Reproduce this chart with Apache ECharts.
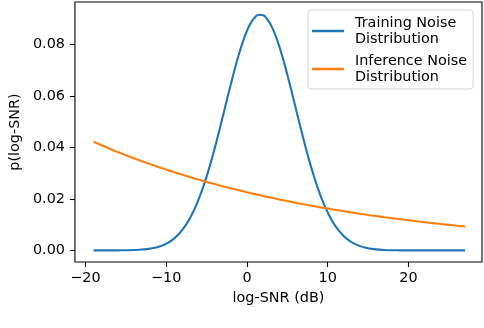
<!DOCTYPE html>
<html>
<head>
<meta charset="utf-8">
<script src="https://cdn.jsdelivr.net/npm/echarts@6/dist/echarts.min.js"></script>
<style>
  html, body { margin: 0; padding: 0; background: #fff; }
  #chart { width: 484px; height: 328px; }
</style>
</head>
<body>
<div id="chart"></div>
<script>
// log-SNR sample points (dB), finer around the training peak
const trainSnr = [-19, -18, -17, -16, -15, -14, -13, -12, -11, -10, -9, -8, -7, -6, -5, -4, -3,
  -2.5, -2, -1.5, -1, -0.5, 0, 0.5, 1, 1.5, 2, 2.5, 3, 3.5, 4, 4.5, 5, 5.5, 6,
  7, 8, 9, 10, 11, 12, 13, 14, 15, 16, 17, 18, 19, 20, 21, 22, 23, 24, 25, 26, 27]
const training = [0.0000, 0.0000, 0.0000, 0.00003, 0.00006, 0.00015, 0.00033, 0.00069, 0.00137, 0.0026,
  0.00467, 0.00795, 0.01285, 0.01972, 0.02869, 0.03963, 0.05191,
  0.0583, 0.06457, 0.0706, 0.07618, 0.08113, 0.08528, 0.08848, 0.09059, 0.09155, 0.09131, 0.08988,
  0.08732, 0.08373, 0.07924, 0.07401, 0.06823, 0.06208, 0.05575,
  0.04322, 0.03178, 0.02218, 0.01469, 0.00923, 0.0055, 0.00311, 0.00167, 0.00085, 0.00041,
  0.00018, 0.00007, 0.00003, 0.00001, 0.0000, 0.0000, 0.0000, 0.0000, 0.0000, 0.0000, 0.0000]

const inferSnr = [-19, -18, -17, -16, -15, -14, -13, -12, -11, -10, -9, -8, -7, -6, -5, -4, -3, -2, -1, 0,
  1, 2, 3, 4, 5, 6, 7, 8, 9, 10, 11, 12, 13, 14, 15, 16, 17, 18, 19, 20, 21, 22, 23, 24, 25, 26, 27]
const inference = [0.0422, 0.04083, 0.03951, 0.03823, 0.037, 0.0358, 0.03464, 0.03352, 0.03244, 0.03139,
  0.03037, 0.02939, 0.02844, 0.02752, 0.02663, 0.02577, 0.02493, 0.02413, 0.02335, 0.02259,
  0.02186, 0.02115, 0.02047, 0.01981, 0.01917, 0.01855, 0.01795, 0.01737, 0.0168, 0.01626,
  0.01573, 0.01522, 0.01473, 0.01425, 0.01379, 0.01335, 0.01291, 0.0125, 0.01209, 0.0117,
  0.01132, 0.01096, 0.0106, 0.01026, 0.00993, 0.00961, 0.0093]

const xTicks = [-20, -10, 0, 10, 20]
const yTicks = [0, 0.02, 0.04, 0.06, 0.08]

const font = 'DejaVu Sans'
const fs = 14.4
const chart = echarts.init(document.getElementById('chart'))

const pairs = (xs, ys) => xs.map((x, i) => [x, ys[i]])

chart.setOption({
  animation: false,
  textStyle: { fontFamily: font },
  grid: {
    left: 73, right: 2, top: 2, bottom: 66,
    show: true, borderColor: '#000', borderWidth: 1.1
  },
  legend: {
    left: 308, top: 10,
    orient: 'vertical',
    padding: [5, 6, 4, 4],
    itemGap: 6,
    itemWidth: 32,
    itemHeight: 2.5,
    icon: 'rect',
    borderColor: '#d6d6d6',
    borderWidth: 1,
    borderRadius: 3,
    backgroundColor: 'rgba(255,255,255,0.8)',
    textStyle: { fontFamily: font, fontSize: fs, color: '#000', lineHeight: 16, padding: [0, 0, 0, 6] }
  },
  xAxis: {
    type: 'value',
    min: -21.3, max: 29.1,
    name: 'log-SNR (dB)',
    nameLocation: 'middle',
    nameGap: 29,
    nameTextStyle: { fontFamily: font, fontSize: fs, color: '#000' },
    axisLine: { show: false, onZero: false },
    splitLine: { show: false },
    axisTick: { show: true, length: 5, lineStyle: { color: '#000', width: 1.1 }, customValues: xTicks },
    axisLabel: {
      fontFamily: font, fontSize: fs, color: '#000', margin: 9,
      customValues: xTicks,
      formatter: (v) => String(v).replace('-', '\u2212')
    }
  },
  yAxis: {
    type: 'value',
    min: -0.0045, max: 0.0965,
    name: 'p(log-SNR)',
    nameLocation: 'middle',
    nameGap: 47,
    nameTextStyle: { fontFamily: font, fontSize: fs, color: '#000' },
    axisLine: { show: false, onZero: false },
    splitLine: { show: false },
    axisTick: { show: true, length: 5, lineStyle: { color: '#000', width: 1.1 }, customValues: yTicks },
    axisLabel: {
      fontFamily: font, fontSize: fs, color: '#000', margin: 10,
      customValues: yTicks,
      formatter: (v) => v.toFixed(2)
    }
  },
  series: [
    {
      name: 'Training Noise\nDistribution',
      type: 'line',
      data: pairs(trainSnr, training),
      smooth: true,
      showSymbol: false,
      color: '#1f77b4',
      lineStyle: { width: 2.1 }
    },
    {
      name: 'Inference Noise\nDistribution',
      type: 'line',
      data: pairs(inferSnr, inference),
      smooth: true,
      showSymbol: false,
      color: '#ff7f0e',
      lineStyle: { width: 2.1 }
    }
  ]
})
</script>
</body>
</html>
